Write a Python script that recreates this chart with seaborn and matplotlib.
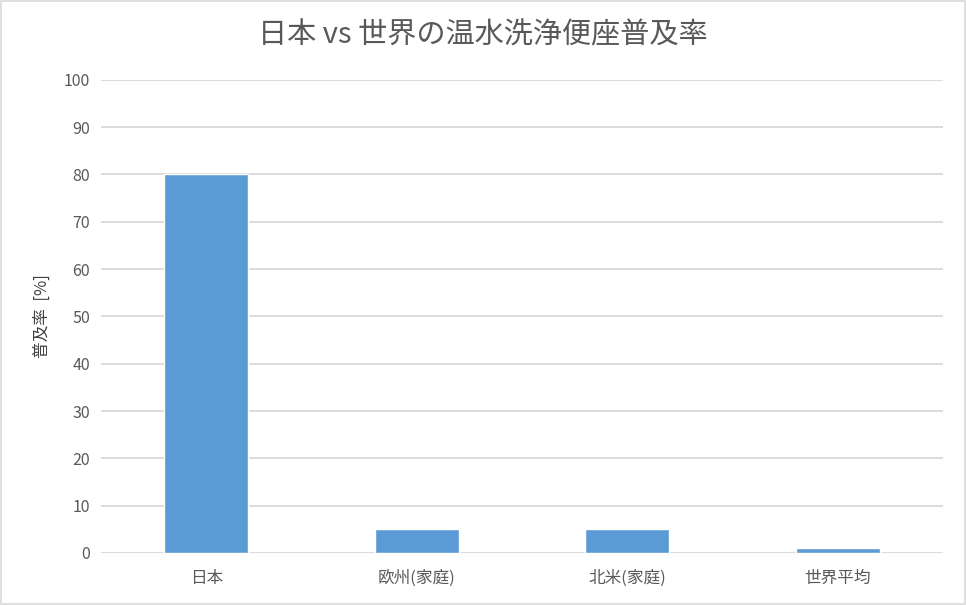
import matplotlib
matplotlib.use("Agg")
import matplotlib.pyplot as plt
import seaborn as sns
import pandas as pd

# chart data
categories = ["日本", "欧州(家庭)", "北米(家庭)", "世界平均"]
rates = [80, 5, 5, 1]
yticks = list(range(0, 101, 10))

df = pd.DataFrame({"region": categories, "rate": rates})

sns.set_style("white")
plt.rcParams["font.family"] = ["Noto Sans CJK JP", "DejaVu Sans"]

fig = plt.figure(figsize=(9.66, 6.05), dpi=100)
ax = fig.add_axes([0.1046, 0.086, 0.8715, 0.782])

sns.barplot(data=df, x="region", y="rate", color="#5B9BD5", saturation=1,
            width=0.4, ax=ax, zorder=3)

ax.set_ylim(0, 100)
ax.set_yticks(yticks)
ax.set_xlim(-0.5, len(categories) - 0.5)
ax.grid(axis="y", color="#D9D9D9", linewidth=1.3, zorder=0)
ax.set_axisbelow(True)
for s in ax.spines.values():
    s.set_visible(False)
ax.tick_params(axis="both", length=0, colors="#595959", labelsize=11.5, pad=8)
ax.tick_params(axis="x", labelsize=12, pad=12)
ax.set_xlabel("")
ax.set_ylabel("普及率  [%]", fontsize=12, color="#404040", labelpad=9)

fig.text(0.5, 0.942, "日本 vs 世界の温水洗浄便座普及率", ha="center", va="center",
         fontsize=21, color="#595959")

# light border around the figure
fig.patches.append(plt.Rectangle((0.001, 0.001), 0.998, 0.997, transform=fig.transFigure,
                                 fill=False, edgecolor="#D9D9D9", linewidth=1.2))

fig.savefig("out.png", dpi=100)
